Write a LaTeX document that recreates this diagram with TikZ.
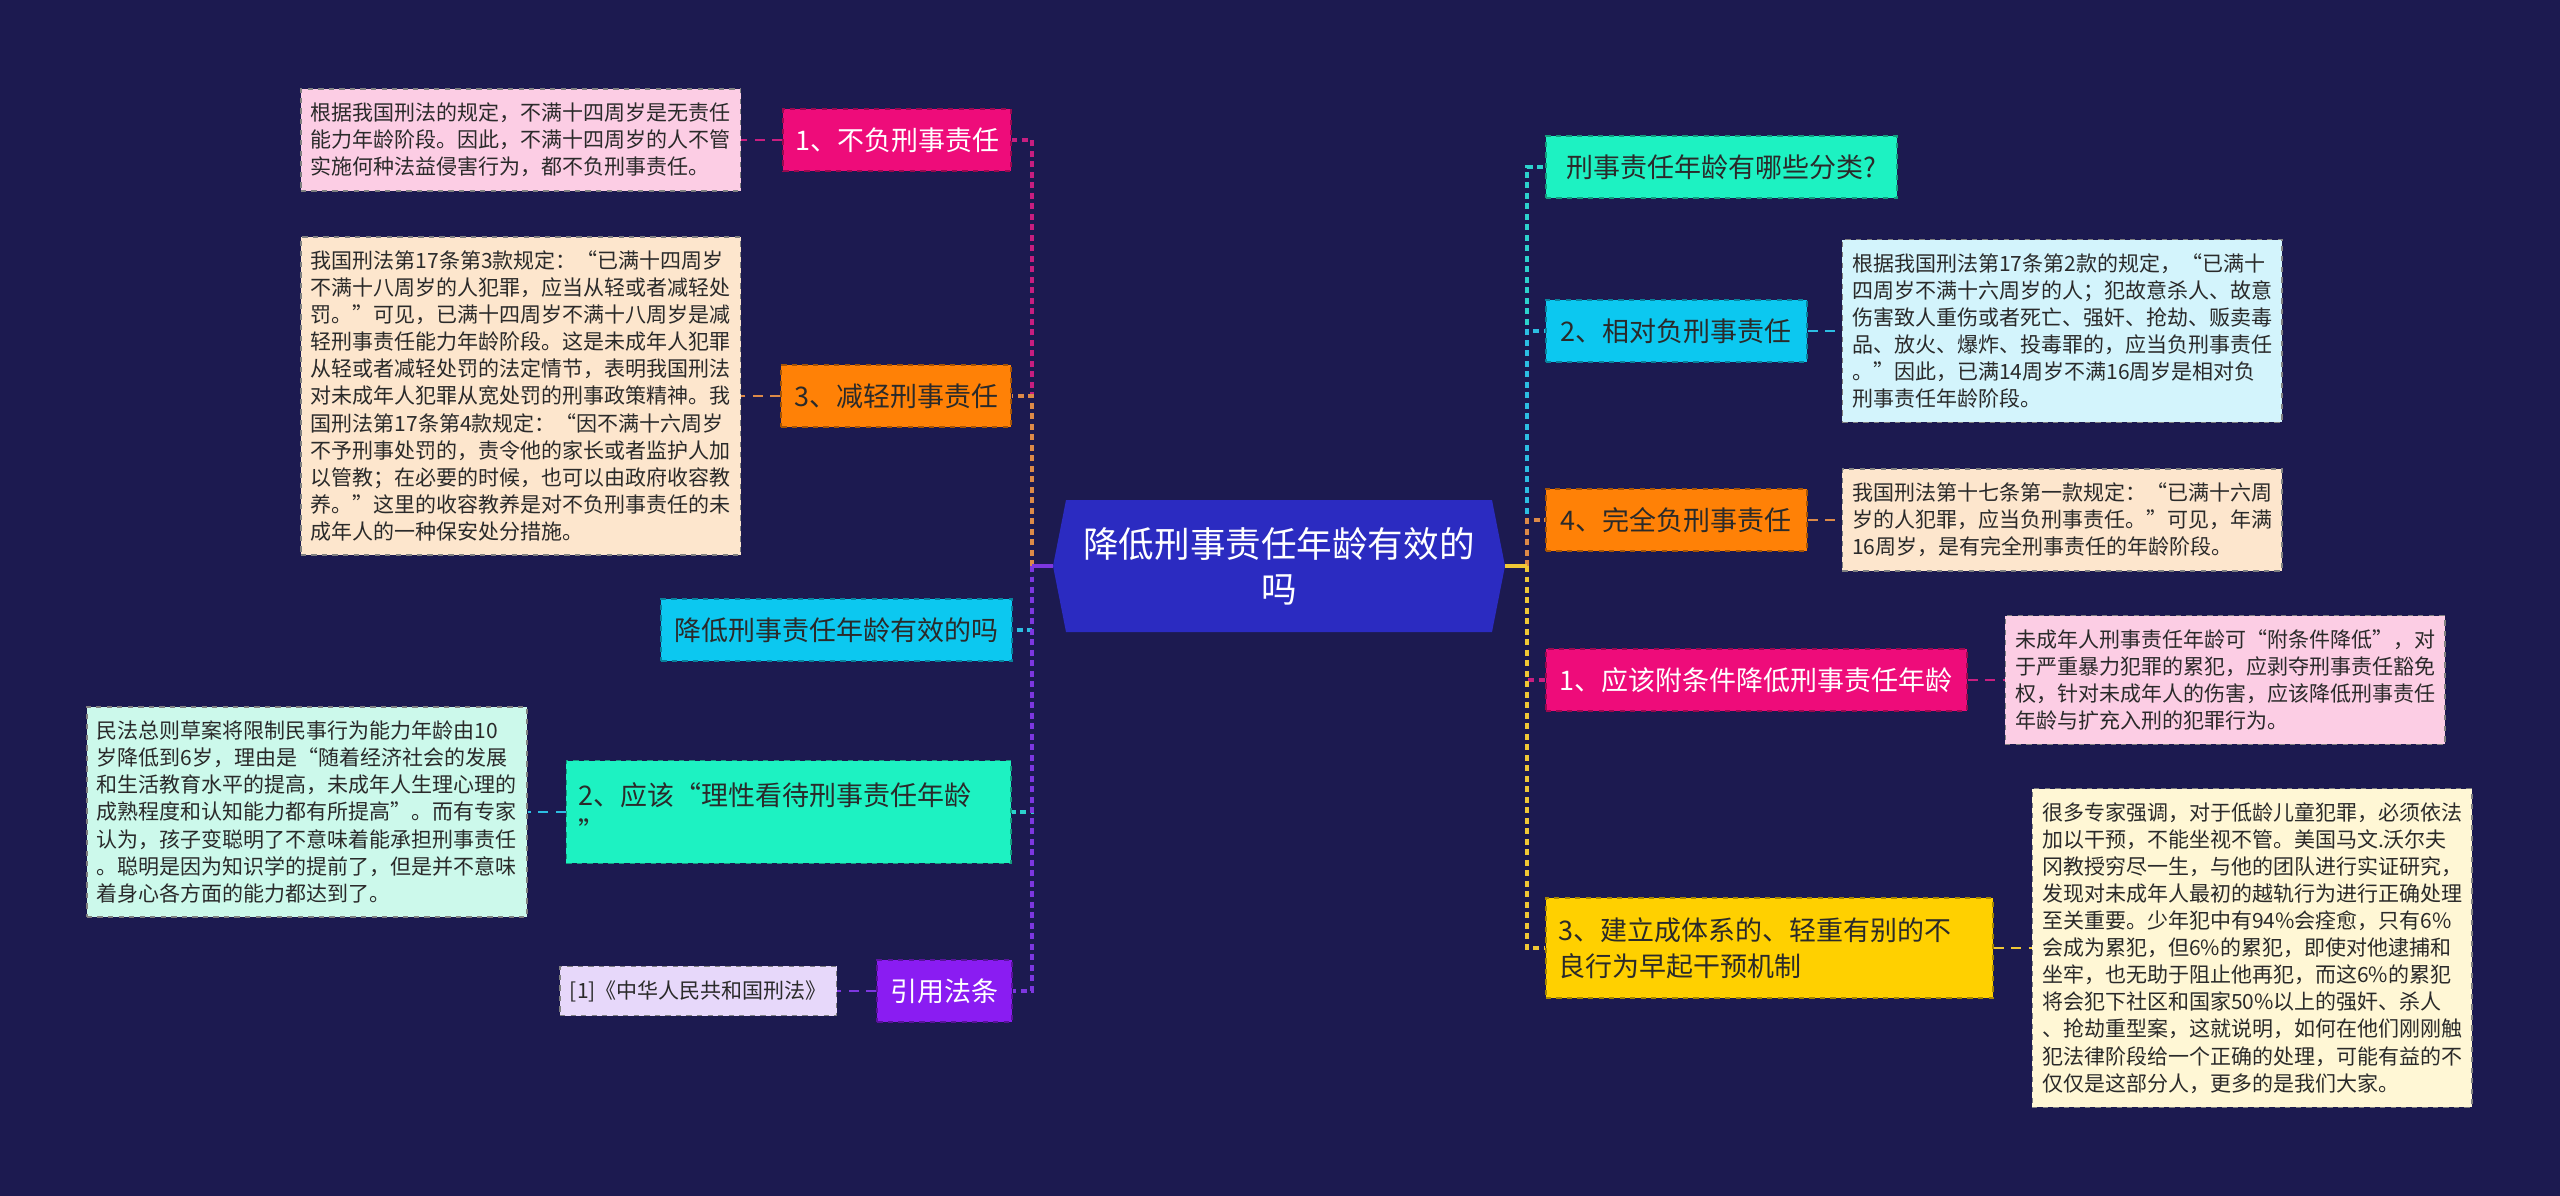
\documentclass[tikz,border=0pt]{standalone}
\usepackage{fontspec}
\setmainfont{Noto Sans CJK SC}
\usepackage{tikz}
\usetikzlibrary{positioning, calc}
\definecolor{bgnavy}{HTML}{1C1A50}
\definecolor{hexblue}{HTML}{2B2BC1}
\definecolor{magfill}{HTML}{EE0C7A}
\definecolor{orfill}{HTML}{FF8106}
\definecolor{skyfill}{HTML}{0CC8F0}
\definecolor{aquafill}{HTML}{1DF2C2}
\definecolor{purfill}{HTML}{8A1CF2}
\definecolor{goldfill}{HTML}{FFD000}
\definecolor{pinkbg}{HTML}{FCCDE4}
\definecolor{peachbg}{HTML}{FDE6CD}
\definecolor{mintbg}{HTML}{CCF9EB}
\definecolor{lavbg}{HTML}{E7D8FA}
\definecolor{icebg}{HTML}{D3F4FC}
\definecolor{creambg}{HTML}{FFF7D5}
\definecolor{magline}{HTML}{C81E80}
\definecolor{orline}{HTML}{DC8A48}
\definecolor{skyline}{HTML}{2CBEE2}
\definecolor{aqualine}{HTML}{2CD2CC}
\definecolor{purline}{HTML}{7D37E0}
\definecolor{goldline}{HTML}{F0C836}
\definecolor{inkdark}{HTML}{2A2A2A}

\begin{document}
\begin{tikzpicture}[
  x=0.02cm, y=-0.02cm,
  hub/.style={rectangle, minimum width=9.04cm, minimum height=2.64cm, inner sep=0pt, align=center, text=white, font=\fontsize{20.25}{25.6}\selectfont},
  branch/.style={rectangle, draw=#1!65!black, dashed, line width=0.9pt, fill=#1, text=inkdark, inner xsep=0.2cm, minimum height=1.24cm, font=\fontsize{15.36}{20.5}\selectfont},
  detail/.style={rectangle, draw=black!50, dashed, line width=0.8pt, fill=#1, text=inkdark, align=left, inner xsep=0.2cm, inner ysep=0.28cm, font=\fontsize{11.95}{15.4}\selectfont},
  trunk/.style={line width=0.065cm, dash pattern=on 0.12cm off 0.09cm},
  link/.style={line width=0.055cm, dash pattern=on 0.2cm off 0.15cm},
  hubline/.style={line width=0.065cm}
]
  \fill[bgnavy] (0,0) rectangle (2560,1196);
  \useasboundingbox (0,0) rectangle (2560,1196);

  \fill[hexblue] (1053,566) -- (1066,500) -- (1492,500) -- (1505,566) -- (1492,632) -- (1066,632) -- cycle;
  \node[hub] (c) at (1279,566) {降低刑事责任年龄有效的\\吗};

  \node[branch=magfill, text=white, anchor=east, minimum width=4.56cm] (neg1) at (1012,140) {1、不负刑事责任};
  \node[branch=orfill, anchor=east, minimum width=4.6cm] (neg3) at (1012,396) {3、减轻刑事责任};
  \node[branch=skyfill, anchor=east, minimum width=7.02cm] (topic) at (1013,630) {降低刑事责任年龄有效的吗};
  \node[branch=aquafill, anchor=east, align=left, text width=8.4cm, inner xsep=0.25cm, minimum height=2.06cm] (age2) at (1012,812) {2、应该“理性看待刑事责任年龄\\”};
  \node[branch=purfill, text=white, anchor=east, minimum width=2.7cm] (cite) at (1013,991) {引用法条};

  \node[detail=pinkbg, left=0.82cm of neg1] (neg1txt) {根据我国刑法的规定，不满十四周岁是无责任\\能力年龄阶段。因此，不满十四周岁的人不管\\实施何种法益侵害行为，都不负刑事责任。};
  \node[detail=peachbg, left=0.78cm of neg3] (neg3txt) {我国刑法第17条第3款规定：“已满十四周岁\\不满十八周岁的人犯罪，应当从轻或者减轻处\\罚。”可见，已满十四周岁不满十八周岁是减\\轻刑事责任能力年龄阶段。这是未成年人犯罪\\从轻或者减轻处罚的法定情节，表明我国刑法\\对未成年人犯罪从宽处罚的刑事政策精神。我\\国刑法第17条第4款规定：“因不满十六周岁\\不予刑事处罚的，责令他的家长或者监护人加\\以管教；在必要的时候，也可以由政府收容教\\养。”这里的收容教养是对不负刑事责任的未\\成年人的一种保安处分措施。};
  \node[detail=mintbg, left=0.76cm of age2] (age2txt) {民法总则草案将限制民事行为能力年龄由10\\岁降低到6岁，理由是“随着经济社会的发展\\和生活教育水平的提高，未成年人生理心理的\\成熟程度和认知能力都有所提高”。而有专家\\认为，孩子变聪明了不意味着能承担刑事责任\\。聪明是因为知识学的提前了，但是并不意味\\着身心各方面的能力都达到了。};
  \node[detail=lavbg, left=0.78cm of cite] (citetxt) {[1]《中华人民共和国刑法》};

  \node[branch=aquafill, anchor=west, minimum width=7.02cm] (kinds) at (1545,167) {刑事责任年龄有哪些分类?};
  \node[branch=skyfill, anchor=west, minimum width=5.22cm] (rel) at (1545,331) {2、相对负刑事责任};
  \node[branch=orfill, anchor=west, minimum width=5.22cm] (full) at (1545,520) {4、完全负刑事责任};
  \node[branch=magfill, text=white, anchor=west, minimum width=8.42cm] (cond) at (1545,680) {1、应该附条件降低刑事责任年龄};
  \node[branch=goldfill, anchor=west, align=left, text width=8.44cm, inner xsep=0.25cm, minimum height=2cm] (early) at (1545,948) {3、建立成体系的、轻重有别的不\\良行为早起干预机制};

  \node[detail=icebg, right=0.68cm of rel] (reltxt) {根据我国刑法第17条第2款的规定，“已满十\\四周岁不满十六周岁的人；犯故意杀人、故意\\伤害致人重伤或者死亡、强奸、抢劫、贩卖毒\\品、放火、爆炸、投毒罪的，应当负刑事责任\\。”因此，已满14周岁不满16周岁是相对负\\刑事责任年龄阶段。};
  \node[detail=peachbg, right=0.68cm of full] (fulltxt) {我国刑法第十七条第一款规定：“已满十六周\\岁的人犯罪，应当负刑事责任。”可见，年满\\16周岁，是有完全刑事责任的年龄阶段。};
  \node[detail=pinkbg, right=0.74cm of cond] (condtxt) {未成年人刑事责任年龄可“附条件降低”，对\\于严重暴力犯罪的累犯，应剥夺刑事责任豁免\\权，针对未成年人的伤害，应该降低刑事责任\\年龄与扩充入刑的犯罪行为。};
  \node[detail=creambg, right=0.76cm of early] (earlytxt) {很多专家强调，对于低龄儿童犯罪，必须依法\\加以干预，不能坐视不管。美国马文.沃尔夫\\冈教授穷尽一生，与他的团队进行实证研究，\\发现对未成年人最初的越轨行为进行正确处理\\至关重要。少年犯中有94\%会痊愈，只有6\%\\会成为累犯，但6\%的累犯，即使对他逮捕和\\坐牢，也无助于阻止他再犯，而这6\%的累犯\\将会犯下社区和国家50\%以上的强奸、杀人\\、抢劫重型案，这就说明，如何在他们刚刚触\\犯法律阶段给一个正确的处理，可能有益的不\\仅仅是这部分人，更多的是我们大家。};

  \coordinate (lj) at (1032,566);
  \coordinate (rj) at (1527,566);

  \draw[trunk, magline] (lj) |- (neg1.east);
  \draw[trunk, orline] (lj) |- (neg3.east);
  \draw[trunk, skyline] (lj) |- (topic.east);
  \draw[trunk, aqualine] (lj) |- (age2.east);
  \draw[trunk, purline] (lj) |- (cite.east);
  \draw[hubline, purline] (c.west) -- (lj);

  \draw[trunk, aqualine] (rj) |- (kinds.west);
  \draw[trunk, skyline] (rj) |- (rel.west);
  \draw[trunk, orline] (rj) |- (full.west);
  \draw[trunk, magline] (rj) |- (cond.west);
  \draw[trunk, goldline] (rj) |- (early.west);
  \draw[hubline, goldline] (c.east) -- (rj);

  \draw[link, magline] (neg1) -- (neg1txt);
  \draw[link, orline] (neg3) -- (neg3txt);
  \draw[link, skyline] (age2) -- (age2txt);
  \draw[link, purline] (cite) -- (citetxt);
  \draw[link, skyline] (rel) -- (reltxt);
  \draw[link, orline] (full) -- (fulltxt);
  \draw[link, magline] (cond) -- (condtxt);
  \draw[link, goldline] (early) -- (earlytxt);
\end{tikzpicture}
\end{document}
